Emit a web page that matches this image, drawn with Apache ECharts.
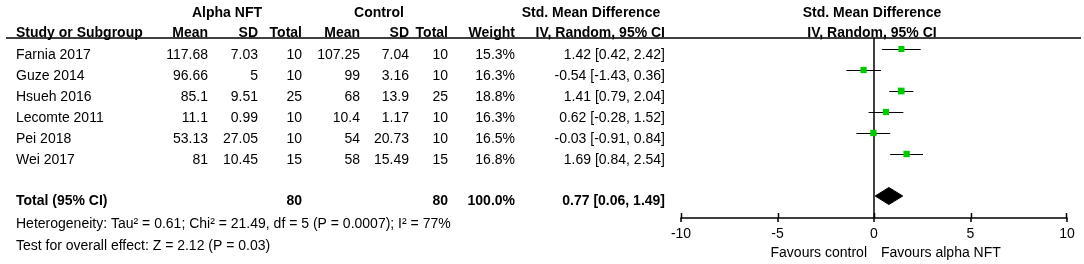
<!DOCTYPE html>
<html lang="en">

<head>
    <meta charset="UTF-8">
    <title>Forest plot - Alpha NFT vs Control</title>
    <script src="https://cdn.jsdelivr.net/npm/echarts@6/dist/echarts.min.js"></script>
    <style>
        html, body { margin: 0; padding: 0; background: #fff; }
    </style>
</head>

<body>
    <div id="main" style="width: 1084px;height:264px;"></div>
    <script type="text/javascript">
        // study data
        var studies = ['Farnia 2017', 'Guze 2014', 'Hsueh 2016', 'Lecomte 2011', 'Pei 2018', 'Wei 2017'];
        var expMean = [117.68, 96.66, 85.1, 11.1, 53.13, 81];
        var expSD = [7.03, 5, 9.51, 0.99, 27.05, 10.45];
        var expN = [10, 10, 25, 10, 10, 15];
        var ctlMean = [107.25, 99, 68, 10.4, 54, 58];
        var ctlSD = [7.04, 3.16, 13.9, 1.17, 20.73, 15.49];
        var ctlN = [10, 10, 25, 10, 10, 15];
        var weights = [15.3, 16.3, 18.8, 16.3, 16.5, 16.8];
        var smd = [1.42, -0.54, 1.41, 0.62, -0.03, 1.69];
        var ciLow = [0.42, -1.43, 0.79, -0.28, -0.91, 0.84];
        var ciHigh = [2.42, 0.36, 2.04, 1.52, 0.84, 2.54];

        // pooled result
        var totalN = [80, 80];
        var totalWeight = 100.0;
        var pooled = [0.77, 0.06, 1.49]; // estimate, low, high
        var heterogeneity = 'Heterogeneity: Tau² = 0.61; Chi² = 21.49, df = 5 (P = 0.0007); I² = 77%';
        var overallTest = 'Test for overall effect: Z = 2.12 (P = 0.03)';

        // axis
        var xTicks = [-10, -5, 0, 5, 10];
        var favourLeft = 'Favours control';
        var favourRight = 'Favours alpha NFT';

        var FONT = '"Liberation Sans", Arial, sans-serif';
        var ROW = 21;        // px between rows
        var FIRST = 49;      // px of first marker row
        var RULE_Y = 38;     // px of header rule / top of plot
        var AXIS_Y = 218;    // px of x axis
        var totalRow = studies.length + 1;

        // pixel -> row units (both grids share this vertical scale)
        function rowOf(px) { return (px - FIRST) / ROW; }
        var textShift = 6 / ROW;

        function fmt(v) { return v.toFixed(2); }

        // table cells: x (px), row, text, align, bold
        var cells = [];
        function cell(x, row, text, align, bold) {
            cells.push({ x: x, y: row, text: String(text), align: align, bold: !!bold });
        }

        var h1 = rowOf(13), h2 = rowOf(33);
        cell(227, h1, 'Alpha NFT', 'center', true);
        cell(379, h1, 'Control', 'center', true);
        cell(591, h1, 'Std. Mean Difference', 'center', true);
        cell(872, h1, 'Std. Mean Difference', 'center', true);
        cell(16, h2, 'Study or Subgroup', 'left', true);
        cell(208, h2, 'Mean', 'right', true);
        cell(258, h2, 'SD', 'right', true);
        cell(302, h2, 'Total', 'right', true);
        cell(360, h2, 'Mean', 'right', true);
        cell(409, h2, 'SD', 'right', true);
        cell(448, h2, 'Total', 'right', true);
        cell(515, h2, 'Weight', 'right', true);
        cell(665, h2, 'IV, Random, 95% CI', 'right', true);
        cell(872, h2, 'IV, Random, 95% CI', 'center', true);

        studies.forEach(function (s, i) {
            var r = i + textShift;
            cell(16, r, s, 'left');
            cell(208, r, expMean[i], 'right');
            cell(258, r, expSD[i], 'right');
            cell(302, r, expN[i], 'right');
            cell(360, r, ctlMean[i], 'right');
            cell(409, r, ctlSD[i], 'right');
            cell(448, r, ctlN[i], 'right');
            cell(515, r, weights[i].toFixed(1) + '%', 'right');
            cell(665, r, fmt(smd[i]) + ' [' + fmt(ciLow[i]) + ', ' + fmt(ciHigh[i]) + ']', 'right');
        });

        var tr = totalRow + 5 / ROW;
        cell(16, tr, 'Total (95% CI)', 'left', true);
        cell(302, tr, totalN[0], 'right', true);
        cell(448, tr, totalN[1], 'right', true);
        cell(515, tr, totalWeight.toFixed(1) + '%', 'right', true);
        cell(665, tr, fmt(pooled[0]) + ' [' + fmt(pooled[1]) + ', ' + fmt(pooled[2]) + ']', 'right', true);
        cell(16, rowOf(224), heterogeneity, 'left');
        cell(16, rowOf(246), overallTest, 'left');
        cell(867, rowOf(253), favourLeft, 'right');
        cell(881, rowOf(253), favourRight, 'left');

        var yRange = { min: rowOf(RULE_Y), max: rowOf(AXIS_Y) };
        var ruleLeft = 6, ruleRight = 1081;

        // straight line between two points
        function segment(x1, y1, x2, y2, w) {
            return {
                type: 'line',
                shape: { x1: x1, y1: y1, x2: x2, y2: y2 },
                style: { stroke: '#000', lineWidth: w || 1 }
            };
        }

        var myChart = echarts.init(document.getElementById('main'));

        var option = {
            backgroundColor: '#fff',
            animation: false,
            textStyle: { fontFamily: FONT },
            grid: [
                { left: 681, right: 17, top: RULE_Y, bottom: 264 - AXIS_Y },                     // forest
                { left: ruleLeft, right: 1084 - ruleRight, top: RULE_Y, bottom: 264 - AXIS_Y }   // table
            ],
            xAxis: [
                {
                    gridIndex: 0, type: 'value', position: 'bottom',
                    min: xTicks[0], max: xTicks[xTicks.length - 1],
                    interval: xTicks[1] - xTicks[0],
                    axisLine: { show: true, onZero: false, lineStyle: { color: '#000', width: 1.5 } },
                    axisTick: { show: true, length: 4, lineStyle: { color: '#000', width: 1.5 } },
                    axisLabel: { margin: 9, fontSize: 14, color: '#000', fontFamily: FONT },
                    splitLine: { show: false }
                },
                {
                    gridIndex: 1, type: 'value', min: ruleLeft, max: ruleRight, show: false
                }
            ],
            yAxis: [
                { gridIndex: 0, type: 'value', inverse: true, min: yRange.min, max: yRange.max, show: false },
                { gridIndex: 1, type: 'value', inverse: true, min: yRange.min, max: yRange.max, show: false }
            ],
            series: [
                {
                    // line of no effect, from the header rule down to the axis
                    type: 'custom', xAxisIndex: 0, yAxisIndex: 0,
                    data: [[0, 0, yRange.max]],
                    renderItem: function (params, api) {
                        var a = api.coord([api.value(0), api.value(1)]);
                        var b = api.coord([api.value(0), api.value(2)]);
                        return segment(a[0], a[1] + RULE_Y - FIRST, b[0], b[1], 1.5);
                    },
                    z: 6
                },
                {
                    // upper half of the axis ticks
                    type: 'custom', xAxisIndex: 0, yAxisIndex: 0,
                    data: xTicks.map(function (t) { return [t, yRange.max]; }),
                    renderItem: function (params, api) {
                        var p = api.coord([api.value(0), api.value(1)]);
                        var x = Math.round(p[0]) + 0.5;
                        if (params.dataIndex === xTicks.length - 1) x -= 1;
                        return segment(x, p[1] - 5, x, p[1], 1.5);
                    },
                    z: 2
                },
                {
                    // confidence interval whiskers
                    type: 'custom', xAxisIndex: 0, yAxisIndex: 0,
                    data: studies.map(function (s, i) { return [ciLow[i], i, ciHigh[i]]; }),
                    renderItem: function (params, api) {
                        var a = api.coord([api.value(0), api.value(1)]);
                        var b = api.coord([api.value(2), api.value(1)]);
                        var y = Math.round(a[1]) + 0.5;
                        return segment(a[0], y, b[0], y, 1);
                    },
                    z: 3
                },
                {
                    // study estimates
                    type: 'scatter', xAxisIndex: 0, yAxisIndex: 0,
                    symbol: 'rect',
                    data: studies.map(function (s, i) { return [smd[i], i, weights[i]]; }),
                    symbolSize: function (v) { return Math.sqrt(v[2]) * 1.55; },
                    itemStyle: { color: '#00c800', opacity: 1 },
                    clip: false,
                    z: 7
                },
                {
                    // pooled diamond
                    type: 'custom', xAxisIndex: 0, yAxisIndex: 0,
                    data: [[pooled[0], totalRow, pooled[1], pooled[2]]],
                    renderItem: function (params, api) {
                        var r = api.value(1);
                        var c = api.coord([api.value(0), r]);
                        var l = api.coord([api.value(2), r]);
                        var h = api.coord([api.value(3), r]);
                        var hh = 8.5;
                        return {
                            type: 'polygon',
                            shape: { points: [[l[0], c[1]], [c[0], c[1] - hh], [h[0], c[1]], [c[0], c[1] + hh]] },
                            style: { fill: '#000', stroke: '#000', lineWidth: 1 }
                        };
                    },
                    z: 7
                },
                {
                    // header rule across the whole table
                    type: 'custom', xAxisIndex: 1, yAxisIndex: 1,
                    data: [[ruleLeft, 0, ruleRight]],
                    renderItem: function (params, api) {
                        var a = api.coord([api.value(0), api.value(1)]);
                        var b = api.coord([api.value(2), api.value(1)]);
                        var y = a[1] + RULE_Y - FIRST;
                        return segment(a[0], y, b[0], y, 1.5);
                    },
                    z: 6
                },
                {
                    // table text
                    type: 'custom', xAxisIndex: 1, yAxisIndex: 1,
                    data: cells.map(function (c) { return [c.x, c.y]; }),
                    renderItem: function (params, api) {
                        var c = cells[params.dataIndex];
                        var p = api.coord([c.x, c.y]);
                        return {
                            type: 'text',
                            x: p[0], y: p[1],
                            style: {
                                text: c.text,
                                align: c.align,
                                verticalAlign: 'middle',
                                font: (c.bold ? 'bold ' : '') + '14px ' + FONT,
                                fill: '#000'
                            }
                        };
                    },
                    z: 5
                }
            ]
        };

        myChart.setOption(option);
    </script>
</body>

</html>
